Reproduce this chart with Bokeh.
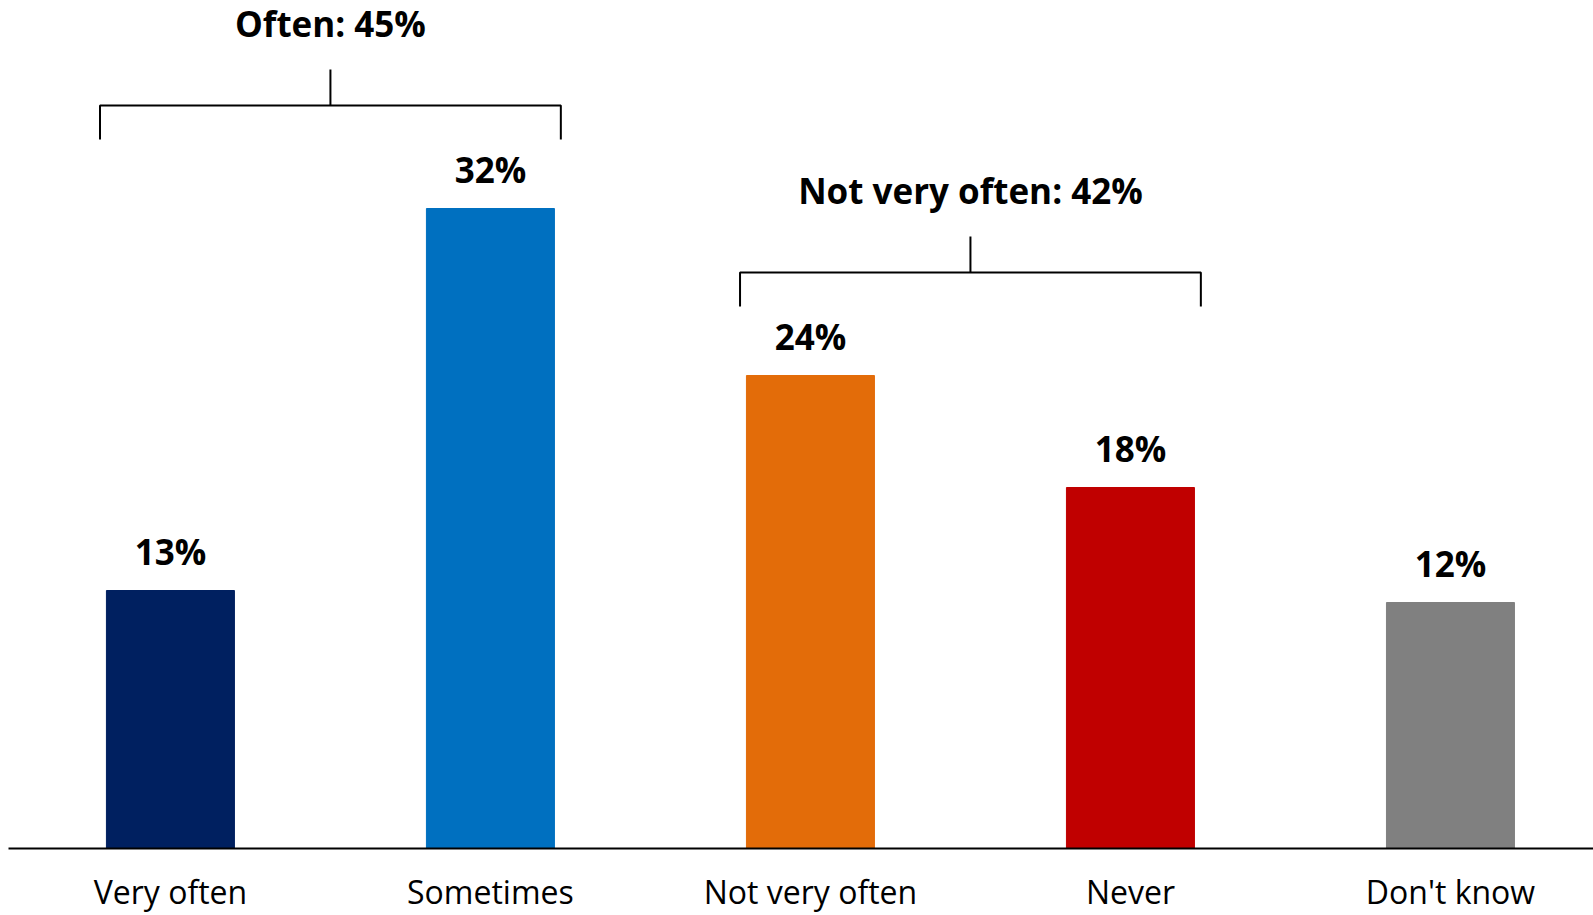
from bokeh.plotting import figure
from bokeh.models import Range1d, FixedTicker, ColumnDataSource
from bokeh.core.properties import value
from bokeh.embed import file_html
from bokeh.resources import INLINE

categories = ["Very often", "Sometimes", "Not very often", "Never", "Don't know"]
values = [12.9, 32.0, 23.65, 18.05, 12.3]
labels = ["13%", "32%", "24%", "18%", "12%"]
colors = ["#002060", "#0070C0", "#E36C09", "#C00000", "#808080"]

group_names = ["Often: 45%", "Not very often: 42%"]
group_first = [0, 2]   # first category index of each group
group_last = [1, 3]    # last category index of each group
group_level = [37.15, 28.8]  # bracket height in value units

FONT = "Open Sans"

xs = list(range(len(categories)))
src = ColumnDataSource(dict(x=xs, top=values, label=labels, color=colors))

p = figure(width=1593, height=915, output_backend="svg", toolbar_location=None,
           x_range=Range1d(-0.506, 4.447), y_range=Range1d(0, 42),
           min_border_left=8, min_border_right=0, min_border_top=8, min_border_bottom=67)
p.outline_line_color = None
p.xgrid.visible = False
p.ygrid.visible = False
p.yaxis.visible = False
p.background_fill_color = "white"
p.border_fill_color = "white"

p.vbar(x="x", top="top", bottom=0, width=0.4, color="color", source=src)
p.text(x="x", y="top", text="label", source=src, text_align="center",
       text_baseline="alphabetic", y_offset=-39, text_font=value(FONT),
       text_font_style="bold", text_font_size="35px", text_color="black")

ax = p.xaxis[0]
ax.ticker = FixedTicker(ticks=xs)
ax.major_label_overrides = {i: c for i, c in enumerate(categories)}
ax.major_tick_out = 0
ax.major_tick_in = 0
ax.minor_tick_out = 0
ax.minor_tick_in = 0
ax.axis_line_color = "black"
ax.axis_line_width = 2
ax.major_label_standoff = 21
ax.major_label_text_font = FONT
ax.major_label_text_font_size = "32px"
ax.major_label_text_color = "black"

# brackets
for name, a, b, lvl in zip(group_names, group_first, group_last, group_level):
    left = a - 0.22
    right = b + 0.22
    mid = (a + b) / 2
    p.line(x=[left, left, right, right], y=[lvl - 1.7, lvl, lvl, lvl - 1.7],
           line_color="black", line_width=2)
    p.line(x=[mid, mid], y=[lvl, lvl + 1.8], line_color="black", line_width=2)
    p.text(x=[mid], y=[lvl + 4.1], text=[name], text_align="center",
           text_baseline="alphabetic", text_font=value(FONT),
           text_font_style="bold", text_font_size="35px", text_color="black")

open("out.html", "w").write(file_html(p, INLINE))
